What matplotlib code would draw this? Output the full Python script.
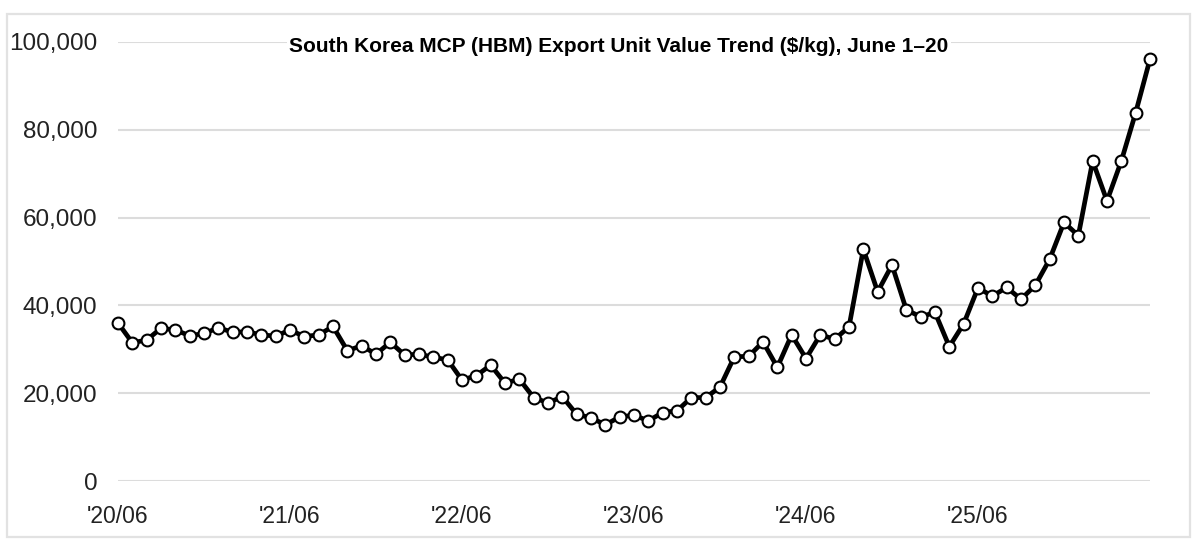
import matplotlib.pyplot as plt
from matplotlib.patches import Rectangle
from matplotlib.ticker import FuncFormatter

# monthly export unit value, $/kg, Jun 2020 .. Jun 2026
values = [36000, 31500, 32100, 34800, 34400, 33100, 33600, 34900, 33900, 34000,
          33300, 33000, 34400, 32900, 33300, 35200, 29700, 30800, 28900, 31600,
          28700, 28900, 28200, 27600, 23000, 24000, 26400, 22300, 23200, 19000,
          17800, 19200, 15200, 14400, 12800, 14600, 15000, 13700, 15600, 16000,
          19000, 19000, 21400, 28300, 28400, 31700, 25900, 33300, 27900, 33300,
          32300, 35100, 52800, 43100, 49200, 39000, 37400, 38400, 30600, 35800,
          44000, 42100, 44100, 41400, 44600, 50500, 58900, 55900, 72900, 63800,
          72900, 83900, 96100]
tick_pos = [0, 12, 24, 36, 48, 60]
tick_labels = ["'20/06", "'21/06", "'22/06", "'23/06", "'24/06", "'25/06"]
y_ticks = [0, 20000, 40000, 60000, 80000, 100000]

plt.rcParams["font.family"] = ["Liberation Sans", "DejaVu Sans"]

fig = plt.figure(figsize=(11.99, 5.42), dpi=100)
fig.patch.set_facecolor("white")
# light frame around the card
fig.add_artist(Rectangle((7 / 1199, 1 - 537 / 542), 1183 / 1199, 523 / 542,
                         transform=fig.transFigure, fill=False,
                         edgecolor="#e2e2e2", lw=1.6))

ax = fig.add_axes([118 / 1199, 1 - 481 / 542, 1032 / 1199, 439 / 542])
x = list(range(len(values)))
ax.plot(x, values, color="black", lw=3.4, marker="o", ms=8.5,
        markerfacecolor="white", markeredgecolor="black", markeredgewidth=1.5,
        clip_on=False, zorder=3)

ax.set_xlim(0, len(values) - 1)
ax.set_ylim(0, 100000)
ax.set_yticks(y_ticks)
ax.yaxis.set_major_formatter(FuncFormatter(lambda v, p: f"{int(v):,}"))
ax.set_xticks(tick_pos)
ax.set_xticklabels(tick_labels)
ax.tick_params(axis="y", length=0, pad=15, labelsize=17.5, labelcolor="#222222")
ax.tick_params(axis="x", length=0, pad=17, labelsize=16.5, labelcolor="#222222")
ax.grid(axis="y", color="#dcdcdc", lw=1.5, zorder=0)
for s in ax.spines.values():
    s.set_visible(False)

fig.text(619 / 1199, 1 - 46 / 542,
         "South Korea MCP (HBM) Export Unit Value Trend ($/kg), June 1\u201320",
         ha="center", va="center", fontsize=15, fontweight="bold", color="black",
         bbox=dict(facecolor="white", edgecolor="none", pad=2), zorder=5)

fig.savefig("out.png", dpi=100, facecolor="white")
